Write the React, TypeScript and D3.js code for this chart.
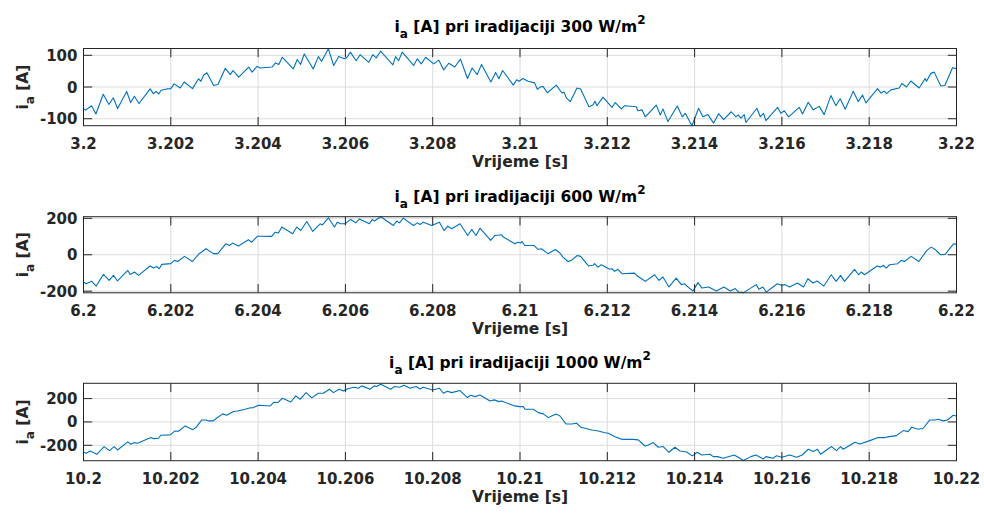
import React from 'react';
import * as d3 from 'd3';

// ---- data (time offsets in ms from window start, current in A) ----
const tMs300 = [0.000, 0.046, 0.184, 0.284, 0.452, 0.582, 0.682, 0.782, 0.989, 1.080, 1.165, 1.272, 1.525, 1.602, 1.663, 1.724, 1.778, 1.908, 2.000, 2.077, 2.215, 2.307, 2.498, 2.636, 2.690, 2.751, 2.828, 2.981, 3.080, 3.249, 3.364, 3.425, 3.556, 3.785, 3.862, 3.977, 4.054, 4.322, 4.398, 4.475, 4.552, 4.805, 4.897, 4.973,
  5.057, 5.264, 5.379, 5.456, 5.609, 5.732, 5.847, 5.977, 6.038, 6.115, 6.245, 6.337, 6.536, 6.628, 6.705, 6.805, 7.088, 7.149, 7.218, 7.303, 7.563, 7.648, 7.739, 7.839, 8.023, 8.138, 8.253, 8.368, 8.506, 8.636, 8.797, 8.904, 9.019, 9.119, 9.333, 9.441, 9.517, 9.602, 9.847, 9.923,
  9.977, 10.069, 10.183, 10.336, 10.397, 10.466, 10.527, 10.626, 10.832, 10.962, 11.008, 11.061, 11.153, 11.305, 11.389, 11.580, 11.672, 11.718, 11.763, 11.901, 12.107, 12.183, 12.321, 12.397, 12.664, 12.702, 12.794, 12.870, 13.122, 13.214, 13.275, 13.389, 13.603, 13.718, 13.786, 13.939, 14.092, 14.191, 14.305, 14.435, 14.550, 14.664, 14.840,
  14.947, 15.000, 15.061, 15.137, 15.176, 15.427, 15.504, 15.580, 15.634, 15.901, 15.977, 16.053, 16.153, 16.397, 16.473, 16.603, 16.718, 16.855, 16.969, 17.122, 17.237, 17.336, 17.450, 17.634, 17.748, 17.847, 17.924, 18.191, 18.267, 18.344, 18.397, 18.496, 18.687, 18.748, 18.855, 18.954, 19.145, 19.282, 19.313, 19.412, 19.489, 19.641, 19.733, 19.908, 20.000];
const ia300 = [-68, -73, -59, -85, -23, -55, -34, -68, -14, -49, -29, -52, -6, -21, -14, -22, -10, -6, -5, 10, -3, 16, -5, 26, 18, 37, 45, 5, 8, 59, 39, 52, 31, 63, 47, 65, 60, 63, 76, 71, 94, 57, 87, 71,
  104, 57, 96, 81, 121, 68, 96, 89, 94, 110, 83, 102, 78, 102, 92, 113, 70, 96, 83, 110, 68, 89, 73, 94, 73, 85, 54, 75, 63, 88, 27, 60, 39, 71, 16, 46, 26, 52, 6, 23,
  18, 27, 18, 13, -7, 0, 2, -18, 6, -19, -16, -34, -46, -3, -6, -62, -57, -45, -59, -32, -64, -49, -69, -59, -62, -75, -72, -94, -57, -88, -69, -109, -60, -94, -83, -122, -67, -94, -87, -114, -84, -103, -78,
  -94, -88, -98, -87, -112, -67, -94, -83, -106, -64, -83, -75, -94, -64, -85, -48, -72, -61, -87, -27, -59, -37, -70, -13, -46, -25, -50, -5, -19, -13, -21, -9, -3, 11, 0, 19, -3, 27, 18, 43, 47, 3, 5, 61, 58];

const tMs600 = [0.000, 0.061, 0.191, 0.290, 0.458, 0.588, 0.687, 0.779, 1.015, 1.069, 1.168, 1.260, 1.527, 1.603, 1.679, 1.733, 1.794, 2.000, 2.084, 2.160, 2.313, 2.496, 2.649, 2.710, 2.802, 2.977, 3.076, 3.260, 3.344, 3.412, 3.550, 3.779, 3.855, 3.985, 4.046, 4.313, 4.389, 4.466, 4.542, 4.794, 4.885, 4.977,
  5.115, 5.252, 5.420, 5.473, 5.611, 5.748, 5.817, 5.893, 5.992, 6.122, 6.237, 6.321, 6.550, 6.618, 6.664, 6.809, 7.099, 7.176, 7.237, 7.328, 7.557, 7.649, 7.710, 7.786, 7.977, 8.153, 8.260, 8.344, 8.435, 8.626, 8.802, 8.893, 8.992, 9.084, 9.328, 9.427, 9.580, 9.618, 9.885, 9.954,
  10.015, 10.046, 10.107, 10.321, 10.412, 10.489, 10.641, 10.809, 10.908, 10.985, 11.099, 11.176, 11.313, 11.389, 11.573, 11.672, 11.710, 11.786, 11.863, 12.053, 12.107, 12.168, 12.244, 12.336, 12.626, 12.687, 12.870, 13.084, 13.183, 13.275, 13.412, 13.580, 13.695, 13.771, 13.824, 13.962, 14.076, 14.168, 14.321, 14.496, 14.672, 14.817, 14.931,
  15.008, 15.122, 15.412, 15.473, 15.565, 15.641, 15.893, 15.985, 16.061, 16.176, 16.351, 16.496, 16.595, 16.710, 16.809, 16.962, 17.130, 17.244, 17.344, 17.435, 17.664, 17.756, 17.817, 17.893, 18.183, 18.260, 18.328, 18.389, 18.466, 18.656, 18.733, 18.809, 18.962, 19.137, 19.321, 19.420, 19.511, 19.634, 19.740, 19.931, 20.000];
const ia600 = [-150, -159, -146, -172, -108, -141, -113, -144, -86, -108, -95, -113, -62, -73, -64, -77, -53, -49, -31, -37, -9, -37, 6, 15, 33, 6, 6, 60, 51, 64, 48, 82, 69, 102, 102, 101, 124, 119, 152, 115, 152, 133,
  183, 128, 170, 164, 203, 152, 179, 170, 170, 194, 175, 197, 170, 194, 185, 209, 161, 185, 175, 201, 161, 175, 166, 179, 161, 179, 133, 157, 143, 170, 106, 139, 106, 146, 79, 106, 110, 97, 60, 69,
  64, 73, 51, 51, 29, 33, 6, 29, 11, -13, -37, -31, -4, -9, -62, -58, -49, -68, -55, -80, -77, -91, -80, -104, -101, -117, -146, -110, -141, -122, -177, -128, -164, -159, -172, -199, -153, -183, -177, -199, -177, -199, -186,
  -205, -208, -164, -190, -177, -205, -159, -168, -164, -177, -155, -177, -132, -155, -144, -172, -110, -146, -113, -146, -80, -110, -95, -110, -62, -68, -58, -73, -55, -49, -31, -37, -9, -37, 24, 42, 29, 0, 2, 60, 57];

const tMs1000 = [0.000, 0.061, 0.153, 0.305, 0.473, 0.595, 0.702, 0.779, 1.015, 1.084, 1.160, 1.237, 1.450, 1.550, 1.603, 1.718, 1.771, 1.985, 2.099, 2.176, 2.328, 2.504, 2.580, 2.710, 2.809, 2.863, 2.977, 3.053, 3.191, 3.282, 3.435, 3.527, 3.702, 3.802, 3.893, 3.992, 4.031, 4.275, 4.366, 4.450, 4.557, 4.748, 4.863, 4.962,
  5.099, 5.229, 5.382, 5.496, 5.634, 5.725, 5.855, 5.954, 6.069, 6.206, 6.298, 6.374, 6.565, 6.664, 6.718, 6.809, 7.038, 7.115, 7.237, 7.344, 7.481, 7.618, 7.710, 7.786, 8.000, 8.153, 8.244, 8.336, 8.435, 8.626, 8.794, 8.870, 8.969, 9.084, 9.313, 9.412, 9.519, 9.580, 9.847, 9.985,
  10.076, 10.115, 10.305, 10.420, 10.534, 10.649, 10.725, 10.824, 10.916, 11.053, 11.183, 11.298, 11.397, 11.641, 11.794, 11.924, 12.023, 12.176, 12.328, 12.595, 12.710, 12.863, 12.939, 13.053, 13.168, 13.282, 13.412, 13.550, 13.664, 13.817, 13.947, 14.061, 14.160, 14.351, 14.427, 14.527, 14.656, 14.908,
  15.000, 15.115, 15.290, 15.405, 15.573, 15.634, 15.802, 15.878, 15.992, 16.183, 16.336, 16.466, 16.603, 16.718, 16.817, 16.885, 17.023, 17.137, 17.252, 17.344, 17.405, 17.672, 17.786, 18.015, 18.206, 18.359, 18.458, 18.626, 18.779, 18.893, 18.969, 19.122, 19.237, 19.389, 19.504, 19.580, 19.695, 19.794, 19.924, 20.000];
const ia1000 = [-260, -269, -249, -277, -211, -246, -211, -240, -171, -191, -177, -183, -149, -134, -143, -140, -114, -111, -77, -80, -34, -66, -46, 17, 17, 9, 9, 34, 69, 57, 89, 94, 109, 120, 123, 140, 143, 137, 169, 166, 203, 171, 223, 194,
  251, 206, 246, 246, 280, 251, 280, 266, 286, 297, 289, 309, 280, 309, 303, 323, 280, 303, 297, 314, 289, 303, 283, 297, 274, 289, 246, 263, 251, 269, 209, 229, 217, 231, 180, 189, 174, 180, 140, 131,
  131, 109, 109, 80, 69, 37, 51, 69, 51, -17, -17, -11, -46, -69, -77, -91, -97, -126, -149, -149, -154, -206, -197, -177, -217, -211, -260, -217, -249, -257, -291, -260, -283, -277, -297, -297, -311, -283,
  -303, -331, -297, -283, -317, -297, -311, -289, -303, -283, -303, -283, -234, -254, -234, -277, -240, -211, -246, -211, -234, -174, -189, -160, -134, -134, -126, -117, -74, -83, -46, -63, -54, 17, 17, 23, 9, 17, 57, 51];

const irradiances = ['300', '600', '1000'];
const xTickMs = [0, 2, 4, 6, 8, 10, 12, 14, 16, 18, 20];
const xTickLabels300 = ['3.2', '3.202', '3.204', '3.206', '3.208', '3.21', '3.212', '3.214', '3.216', '3.218', '3.22'];
const xTickLabels600 = ['6.2', '6.202', '6.204', '6.206', '6.208', '6.21', '6.212', '6.214', '6.216', '6.218', '6.22'];
const xTickLabels1000 = ['10.2', '10.202', '10.204', '10.206', '10.208', '10.21', '10.212', '10.214', '10.216', '10.218', '10.22'];
const yTicks300 = [-100, 0, 100];
const yTicks600 = [-200, 0, 200];
const yTicks1000 = [-200, 0, 200];
const yDomain300 = [-122, 121.5];
const yDomain600 = [-209, 209];
const yDomain1000 = [-332, 331];
const xLabelText = 'Vrijeme [s]';

const FONT = "'DejaVu Sans', sans-serif";
const AXC = '#262626';
const LEFT = 83.5;
const RIGHT = 956.5;
const TICKLEN = 8.7;

type PanelProps = {
  top: number; bottom: number; titleY: number;
  t: number[]; v: number[];
  yDomain: number[]; yTicks: number[]; xLabels: string[]; irr: string;
};

function Panel({ top, bottom, titleY, t, v, yDomain, yTicks, xLabels, irr }: PanelProps) {
  const x = d3.scaleLinear().domain([0, 20]).range([LEFT, RIGHT]);
  const y = d3.scaleLinear().domain(yDomain).range([bottom, top]);
  const line = d3.line<number>().x((_, i) => x(t[i])).y((d) => y(d));
  const cx = (LEFT + RIGHT) / 2;
  const cy = (top + bottom) / 2;
  return (
    <g>
      {/* grid */}
      {xTickMs.map((m) => (
        <line key={'gx' + m} x1={x(m)} x2={x(m)} y1={top} y2={bottom} stroke="#dcdcdc" strokeWidth={1} />
      ))}
      {yTicks.map((tv) => (
        <line key={'gy' + tv} x1={LEFT} x2={RIGHT} y1={y(tv)} y2={y(tv)} stroke="#dcdcdc" strokeWidth={1} />
      ))}
      {/* data */}
      <path d={line(v) || ''} fill="none" stroke="#0072BD" strokeWidth={1.1} strokeLinejoin="round" />
      {/* box */}
      <rect x={LEFT} y={top} width={RIGHT - LEFT} height={bottom - top} fill="none" stroke={AXC} strokeWidth={1} />
      {/* ticks */}
      {xTickMs.map((m) => (
        <g key={'tx' + m}>
          <line x1={x(m)} x2={x(m)} y1={bottom} y2={bottom - TICKLEN} stroke={AXC} strokeWidth={1} />
          <line x1={x(m)} x2={x(m)} y1={top} y2={top + TICKLEN} stroke={AXC} strokeWidth={1} />
        </g>
      ))}
      {yTicks.map((tv) => (
        <g key={'ty' + tv}>
          <line x1={LEFT} x2={LEFT + TICKLEN} y1={y(tv)} y2={y(tv)} stroke={AXC} strokeWidth={1} />
          <line x1={RIGHT} x2={RIGHT - TICKLEN} y1={y(tv)} y2={y(tv)} stroke={AXC} strokeWidth={1} />
        </g>
      ))}
      {/* tick labels */}
      {xTickMs.map((m, i) => (
        <text key={'lx' + m} x={x(m)} y={bottom + 23} textAnchor="middle" fontFamily={FONT} fontWeight="bold" fontSize={15} fill={AXC}>
          {xLabels[i]}
        </text>
      ))}
      {yTicks.map((tv) => (
        <text key={'ly' + tv} x={LEFT - 6} y={y(tv) + 5.5} textAnchor="end" fontFamily={FONT} fontWeight="bold" fontSize={15} fill={AXC}>
          {tv === 0 ? '0' : (tv < 0 ? '-' + Math.abs(tv) : String(tv))}
        </text>
      ))}
      {/* x label */}
      <text x={cx} y={bottom + 41} textAnchor="middle" fontFamily={FONT} fontWeight="bold" fontSize={15.5} fill={AXC}>
        {xLabelText}
      </text>
      {/* y label */}
      <text transform={`translate(27.5,${cy}) rotate(-90)`} textAnchor="middle" fontFamily={FONT} fontWeight="bold" fontSize={15.5} fill={AXC}>
        i<tspan dy={6} fontSize={12}>a</tspan><tspan dy={-6}> [A]</tspan>
      </text>
      {/* title */}
      <text x={cx} y={titleY} textAnchor="middle" fontFamily={FONT} fontWeight="bold" fontSize={15.5} fill="#000">
        i<tspan dy={6} fontSize={12}>a</tspan><tspan dy={-6}>{` [A] pri iradijaciji ${irr} W/m`}</tspan><tspan dy={-8} fontSize={12}>2</tspan>
      </text>
    </g>
  );
}

export default function App() {
  return (
    <svg width={984} height={513} style={{ position: 'absolute', left: 0, top: 0, background: '#fff' }}>
      <rect x={0} y={0} width={984} height={513} fill="#fff" />
      <Panel top={48.5} bottom={125.7} titleY={32.3} t={tMs300} v={ia300} yDomain={yDomain300} yTicks={yTicks300} xLabels={xTickLabels300} irr={irradiances[0]} />
      <Panel top={216.7} bottom={292.8} titleY={202.3} t={tMs600} v={ia600} yDomain={yDomain600} yTicks={yTicks600} xLabels={xTickLabels600} irr={irradiances[1]} />
      <Panel top={383.3} bottom={460.7} titleY={368.3} t={tMs1000} v={ia1000} yDomain={yDomain1000} yTicks={yTicks1000} xLabels={xTickLabels1000} irr={irradiances[2]} />
    </svg>
  );
}
